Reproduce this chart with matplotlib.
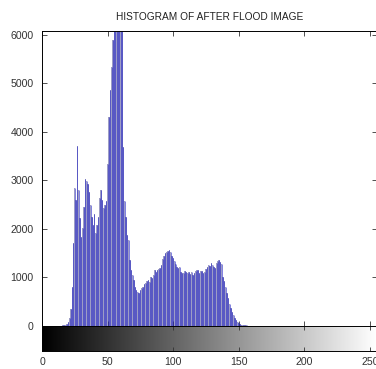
import numpy as np
import matplotlib
matplotlib.use("Agg")
import matplotlib.pyplot as plt

plt.rcParams['font.family'] = ['Liberation Sans Narrow', 'Liberation Sans', 'DejaVu Sans']

# histogram counts (bins 15..158, the rest are zero)
first_bin = 15
counts_mid = [
    10, 15, 20, 30, 50, 90, 160, 350, 810, 1720,            # 15-24
    2840, 2600, 3720, 2800, 2230, 1840, 2020, 2460, 3040, 2980,  # 25-34
    2920, 2770, 2490, 2250, 2080, 2300, 1910, 2080, 2250, 2630,  # 35-44
    2800, 2600, 2440, 2490, 2580, 3350, 4300, 4870, 5350, 5900,  # 45-54
    6500, 7200, 7800, 8000, 7600, 7000, 6400, 3700, 2570, 2250,  # 55-64
    1880, 1770, 1360, 1150, 1050, 950, 810, 740, 710, 690,       # 65-74
    740, 780, 800, 860, 880, 920, 950, 900, 1010, 990,           # 75-84
    1060, 1150, 1120, 1150, 1170, 1190, 1260, 1390, 1450, 1500,  # 85-94
    1530, 1550, 1570, 1530, 1450, 1400, 1330, 1280, 1220, 1200,  # 95-104
    1220, 1120, 1100, 1090, 1130, 1120, 1090, 1110, 1080, 1120,  # 105-114
    1050, 1100, 1140, 1150, 1150, 1100, 1140, 1130, 1100, 1120,  # 115-124
    1180, 1220, 1260, 1240, 1290, 1250, 1210, 1190, 1290, 1330,  # 125-134
    1360, 1310, 1270, 1020, 920, 810, 690, 570, 460, 365,        # 135-144
    280, 230, 160, 120, 90, 60, 40, 30, 20, 20,                  # 145-154
    15, 15, 10, 10,                                              # 155-158
]
counts = [0] * first_bin + counts_mid
counts = counts + [0] * (256 - len(counts))
bins = np.arange(256)

x_ticks = [0, 50, 100, 150, 200, 250]
y_ticks = [0, 1000, 2000, 3000, 4000, 5000, 6000]
title = 'HISTOGRAM OF AFTER FLOOD IMAGE'

W, H = 376, 369
fig = plt.figure(figsize=(W / 100, H / 100), dpi=100)

left_px, right_px = 42, 376.6
top_px, zero_px, cbar_px = 31, 326, 351
ax = fig.add_axes([left_px / W, 1 - zero_px / H,
                   (right_px - left_px) / W, (zero_px - top_px) / H])
cax = fig.add_axes([left_px / W, 1 - cbar_px / H,
                    (right_px - left_px) / W, (cbar_px - zero_px) / H])

ax.bar(bins, counts, width=1.0, color='#9d9dc6', edgecolor='none')
ax.vlines(bins, 0, counts, color='#2323c4', linewidth=0.4)
ax.set_xlim(0, 255)
ax.set_ylim(0, 6082)
ax.set_yticks(y_ticks)
ax.set_xticks(x_ticks)
ax.set_xticklabels([])
ax.tick_params(direction='in', length=3.5, width=0.6, top=True, right=True,
               labelsize=7.6, pad=6, colors='#333333')
for s in ax.spines.values():
    s.set_linewidth(0.7)
ax.set_title(title, fontsize=7.3, pad=8, color='#222222')

grad = np.linspace(0, 1, 256)[None, :]
cax.imshow(grad, aspect='auto', cmap='gray', extent=[0, 255, 0, 1])
cax.set_xlim(0, 255)
cax.set_yticks([])
cax.set_xticks(x_ticks)
cax.tick_params(direction='in', length=3, width=0.6, top=True,
                labelsize=7.6, pad=4, colors='#333333')
for s in cax.spines.values():
    s.set_linewidth(0.7)

fig.savefig('out.png', dpi=100)
